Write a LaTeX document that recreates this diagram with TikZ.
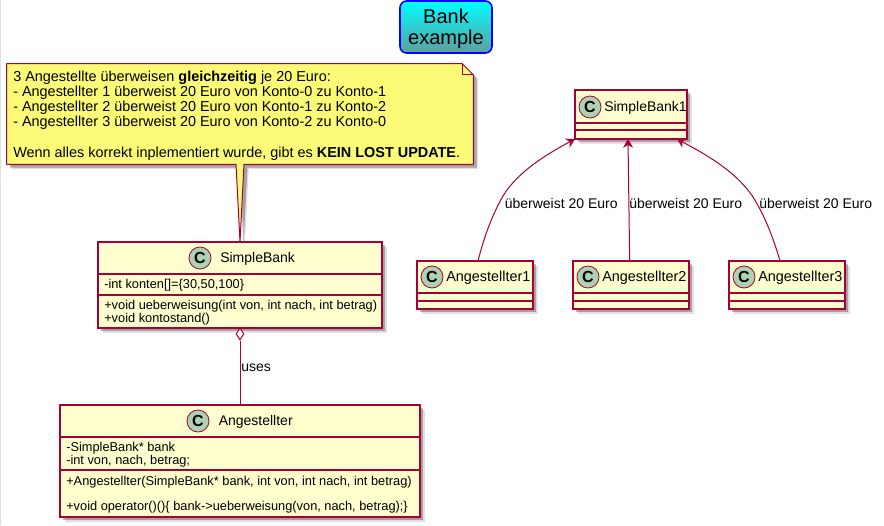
\documentclass[tikz,border=0pt]{standalone}
\usepackage{fontspec}
\setmainfont{Liberation Sans}
\usetikzlibrary{calc, positioning}
\usetikzlibrary{arrows.meta}
\usetikzlibrary{shadows}
\usetikzlibrary{shapes.geometric}

\definecolor{umlred}{HTML}{A80036}
\definecolor{umlfill}{HTML}{FEFECE}
\definecolor{umlnote}{HTML}{FBFB77}
\definecolor{umlcirc}{HTML}{ADD1B2}
\definecolor{umlteal}{HTML}{5F9EA0}

\tikzset{
  softshadow/.style={
    drop shadow={shadow xshift=3.6pt, shadow yshift=-3.6pt, fill=black, opacity=.12},
    drop shadow={shadow xshift=2.6pt, shadow yshift=-2.6pt, fill=black, opacity=.28}},
  classbox/.style={draw=umlred, fill=umlfill, line width=1pt, inner sep=0pt, outer sep=0pt, softshadow},
  classsep/.style={draw=umlred, line width=1pt},
  classcirc/.style={circle, draw=umlred, fill=umlcirc, line width=.6pt, minimum size=16.5pt, inner sep=0pt,
    font=\fontsize{12}{12}\selectfont\bfseries},
  classname/.style={anchor=base west, inner sep=0pt, font=\fontsize{10.5}{12}\selectfont},
  member/.style={anchor=base west, inner sep=0pt, font=\fontsize{9.6}{11}\selectfont},
  edgelabel/.style={anchor=base west, inner sep=0pt, font=\fontsize{10.5}{12}\selectfont},
  relline/.style={draw=umlred, line width=.75pt},
  reltip/.style={{Stealth[length=6.5pt, width=7.5pt, inset=2pt]}-},
}

\begin{document}
\begin{tikzpicture}[x=.75pt, y=-.75pt]
\useasboundingbox (0,0) rectangle (884,525);
\draw[black!12, line width=.75pt] (.5,0) -- (.5,525);

% title
\node[draw=blue, line width=1.2pt, rounded corners=5pt, top color=cyan, bottom color=umlteal,
      minimum width=69pt, minimum height=39pt, inner sep=0pt] (title) at (446,27) {};
\node[inner sep=0pt, align=center, font=\fontsize{15}{16}\selectfont] (titletext) at (446,28.5) {Bank\\example};

% note with its tail
\node[minimum width=349.5pt, minimum height=75pt, inner sep=0pt] (note) at (240,114) {};
\coordinate (sbtop) at (240,242);
\draw[draw=umlred, fill=umlnote, line width=.75pt, line join=round, softshadow]
  (note.north west) -- ([xshift=-8.25pt]note.north east) -- ([yshift=-8.25pt]note.north east)
  -- (note.south east) -- ([xshift=3pt]note.south) -- (sbtop) -- ([xshift=-3pt]note.south)
  -- (note.south west) -- cycle;
\draw[draw=umlred, line width=.75pt, line join=round]
  ([xshift=-8.25pt]note.north east) -- ([xshift=-8.25pt, yshift=-8.25pt]note.north east) -- ([yshift=-8.25pt]note.north east);
\node[anchor=west, inner sep=0pt, align=left, font=\fontsize{10.82}{11.4}\selectfont] (notetext) at (13,115.5)
  {3 Angestellte überweisen \textbf{gleichzeitig} je 20 Euro:\\
   - Angestellter 1 überweist 20 Euro von Konto-0 zu Konto-1\\
   - Angestellter 2 überweist 20 Euro von Konto-1 zu Konto-2\\
   - Angestellter 3 überweist 20 Euro von Konto-2 zu Konto-0\\[11.4pt]
   Wenn alles korrekt inplementiert wurde, gibt es \textbf{KEIN LOST UPDATE}.};

% SimpleBank
\node[classbox, minimum width=213pt, minimum height=64.5pt] (sb) at (240,285) {};
\draw[classsep] ([yshift=-24pt]sb.north west) -- ([yshift=-24pt]sb.north east);
\draw[classsep] ([yshift=-39.75pt]sb.north west) -- ([yshift=-39.75pt]sb.north east);
\node[classcirc] (sbcirc) at (200,258) {C};
\node[classname] (sbname) at (220,262) {SimpleBank};
\node[member] (sbattr) at (104,288) {-int konten[]=\{30,50,100\}};
\node[member] (sbop) at (104,309) {+void ueberweisung(int von, int nach, int betrag)};
\node[member] (sbopb) at (104,322) {+void kontostand()};

% Angestellter
\node[classbox, minimum width=270pt, minimum height=84pt] (ang) at (240,461) {};
\draw[classsep] ([yshift=-24pt]ang.north west) -- ([yshift=-24pt]ang.north east);
\draw[classsep] ([yshift=-48.75pt]ang.north west) -- ([yshift=-48.75pt]ang.north east);
\node[classcirc] (angcirc) at (198,421) {C};
\node[classname] (angname) at (218.5,425) {Angestellter};
\node[member] (angattr) at (66,451) {-SimpleBank* bank};
\node[member] (angattrb) at (66,464) {-int von, nach, betrag;};
\node[member] (angop) at (66,485) {+Angestellter(SimpleBank* bank, int von, int nach, int betrag)};
\node[member] (angopb) at (66,510) {+void operator()()\{ bank->ueberweisung(von, nach, betrag);\}};

% aggregation
\node[diamond, draw=umlred, fill=white, line width=.75pt, aspect=.67, minimum width=6pt, minimum height=9pt, inner sep=0pt] (agg) at (240,334) {};
\draw[relline] (agg) -- (ang);
\node[edgelabel] (uses) at (241,371) {uses};

% SimpleBank1
\node[classbox, minimum width=84pt, minimum height=36.75pt] (bankone) at (631,114.5) {};
\draw[classsep] ([yshift=-24.75pt]bankone.north west) -- ([yshift=-24.75pt]bankone.north east);
\draw[classsep] ([yshift=-30pt]bankone.north west) -- ([yshift=-30pt]bankone.north east);
\node[classcirc] (bankonecirc) at (590,107) {C};
\node[classname] (bankonename) at (604,111) {SimpleBank1};

% Angestellter1 to 3
\foreach \i/\xc in {1/475, 2/631, 3/787} {
  \node[classbox, minimum width=87pt, minimum height=36pt] (ang\i) at (\xc,285) {};
  \draw[classsep] ([yshift=-24pt]ang\i.north west) -- ([yshift=-24pt]ang\i.north east);
  \draw[classsep] ([yshift=-30pt]ang\i.north west) -- ([yshift=-30pt]ang\i.north east);
  \node[classcirc] (angcirc\i) at (\xc-43,277) {C};
  \node[classname, font=\fontsize{10.8}{12}\selectfont] (angname\i) at (\xc-29,281) {Angestellter\i};
}

% arrows
\draw[relline, reltip] (bankone.south west) .. controls (549,153) and (518,171) .. (503,196)
  .. controls (491.5,216) and (483.5,239) .. ([xshift=2.25pt]ang1.north);
\draw[relline, reltip] ([xshift=-2.25pt]bankone.south) -- ([xshift=-1pt]ang2.north);
\draw[relline, reltip] ([xshift=-7.5pt]bankone.south east) .. controls (703,153) and (735,170) .. (753,197)
  .. controls (765,216) and (774,240) .. ([xshift=-5.25pt]ang3.north);
\node[edgelabel] (lblone) at (504.5,208) {überweist 20 Euro};
\node[edgelabel] (lbltwo) at (629,208) {überweist 20 Euro};
\node[edgelabel] (lblthree) at (759,208) {überweist 20 Euro};
\end{tikzpicture}
\end{document}
